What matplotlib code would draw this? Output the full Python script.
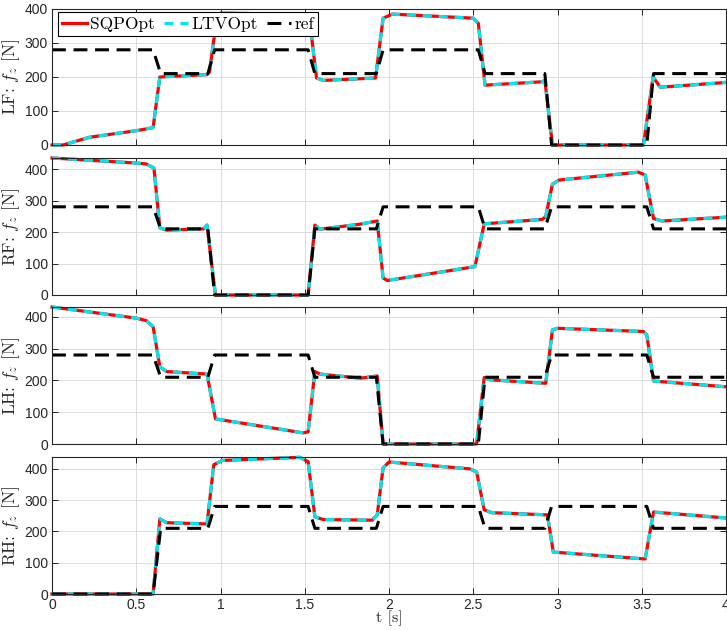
import matplotlib
matplotlib.use("Agg")
import matplotlib.pyplot as plt

plt.rcParams['mathtext.fontset'] = 'cm'
plt.rcParams['font.family'] = ['Liberation Sans', 'DejaVu Sans']
plt.rcParams['lines.scale_dashes'] = False

# reference contact forces (step profile per leg)
t_ref = [0, 0.60, 0.645, 0.925, 0.965, 1.52, 1.56, 1.925, 1.965, 2.53, 2.57, 2.925, 2.965, 3.53, 3.57, 4.0]
ref_lf = [280, 280, 210, 210, 280, 280, 210, 210, 280, 280, 210, 210, 0, 0, 210, 210]
ref_rf = [280, 280, 210, 210, 0, 0, 210, 210, 280, 280, 210, 210, 280, 280, 210, 210]
ref_lh = [280, 280, 210, 210, 280, 280, 210, 210, 0, 0, 210, 210, 280, 280, 210, 210]
ref_rh = [0, 0, 210, 210, 280, 280, 210, 210, 280, 280, 210, 210, 280, 280, 210, 210]

# optimised contact forces
t_lf = [0, 0.065, 0.225, 0.5, 0.6, 0.64, 0.92, 0.935, 0.96, 1.0, 1.5, 1.53, 1.57, 1.61, 1.92,
        1.965, 2.02, 2.5, 2.53, 2.57, 2.91, 2.925, 2.97, 3.51, 3.567, 3.61, 4.0]
f_lf = [0, 0, 23, 42, 51, 200, 207, 215, 309, 388, 384, 362, 197, 190, 197,
        373, 385, 373, 358, 176, 186, 190, 0, 0, 200, 170, 184]

t_rf = [0, 0.5, 0.56, 0.605, 0.64, 0.68, 0.9, 0.92, 0.97, 1.52, 1.56, 1.59, 1.83, 1.93, 1.965,
        1.99, 2.51, 2.565, 2.91, 2.93, 2.97, 3.01, 3.48, 3.52, 3.57, 3.62, 4.0]
f_rf = [435, 419, 416, 403, 213, 206, 210, 222, 0, 0, 222, 209, 225, 235, 54,
        46, 90, 226, 240, 249, 352, 365, 390, 381, 243, 235, 247]

t_lh = [0, 0.5, 0.56, 0.6, 0.64, 0.68, 0.92, 0.97, 1.49, 1.52, 1.56, 1.59, 1.83, 1.93, 1.965,
        2.52, 2.565, 2.6, 2.93, 2.97, 3.0, 3.51, 3.53, 3.57, 4.0]
f_lh = [431, 396, 388, 369, 243, 228, 220, 79, 35, 38, 228, 220, 207, 214, 0,
        0, 209, 202, 191, 359, 364, 354, 343, 198, 180]

t_rh = [0, 0.6, 0.64, 0.68, 0.92, 0.96, 1.01, 1.47, 1.52, 1.56, 1.61, 1.9, 1.93, 1.965, 2.0,
        2.48, 2.52, 2.565, 2.61, 2.94, 2.975, 3.52, 3.57, 4.0]
f_rh = [0, 0, 240, 228, 224, 413, 427, 437, 423, 247, 238, 236, 253, 403, 422,
        400, 390, 269, 260, 253, 134, 112, 262, 243]

legs = ['LF', 'RF', 'LH', 'RH']
opt_t = [t_lf, t_rf, t_lh, t_rh]
opt_f = [f_lf, f_rf, f_lh, f_rh]
refs = [ref_lf, ref_rf, ref_lh, ref_rh]
ytop = [400, 435, 431, 438]

fig = plt.figure(figsize=(7.27, 6.30), dpi=100)
W, H = 727.0, 630.0
tops = [9, 158, 307, 457]
bots = [145, 295, 444, 594]
dark = '#262626'
serif = ['cmr10', 'DejaVu Serif']

for i, leg in enumerate(legs):
    ax = fig.add_axes([52 / W, 1 - bots[i] / H, 674 / W, (bots[i] - tops[i]) / H])
    sqp, = ax.plot(opt_t[i], opt_f[i], color='red', lw=2.3, clip_on=False, label='SQPOpt')
    ltv, = ax.plot(opt_t[i], opt_f[i], color='#00e5ee', lw=2.3, dashes=(6.5, 5),
                   clip_on=False, label='LTVOpt')
    rf, = ax.plot(t_ref, refs[i], color='black', lw=2.2, dashes=(10, 5.5),
                  clip_on=False, label='ref')
    ax.set_xlim(0, 4)
    ax.set_ylim(0, ytop[i])
    ax.set_xticks([0, 0.5, 1, 1.5, 2, 2.5, 3, 3.5, 4])
    ax.set_xticklabels(['0', '0.5', '1', '1.5', '2', '2.5', '3', '3.5', '4'])
    ax.set_yticks([0, 100, 200, 300, 400])
    ax.grid(True, color='#dcdcdc', lw=0.7)
    ax.set_axisbelow(True)
    ax.tick_params(direction='in', length=4, width=0.7, top=True, right=True,
                   colors=dark, labelsize=10, pad=3)
    for s in ax.spines.values():
        s.set_color(dark)
        s.set_linewidth(0.8)
    if i < 3:
        ax.tick_params(labelbottom=False)
    ax.set_ylabel(leg + ': $f_z$ [N]', fontsize=12.5, color=dark, family=serif)
    ax.yaxis.set_label_coords(-0.045, 0.5)
    if i == 0:
        lg = ax.legend(handles=[sqp, ltv, rf], loc='upper left', ncol=3,
                       bbox_to_anchor=(0.009, 0.978), borderaxespad=0,
                       prop={'family': serif, 'size': 12.5},
                       fancybox=False, framealpha=1, edgecolor='black',
                       handlelength=1.4, handletextpad=0.2, columnspacing=0.5,
                       borderpad=0.25)
        lg.get_frame().set_linewidth(0.8)
        lg.set_zorder(10)
    if i == 3:
        ax.set_xlabel('t [s]', fontsize=11.5, color=dark, family=serif, labelpad=-1)

fig.savefig('out.png', dpi=100)
